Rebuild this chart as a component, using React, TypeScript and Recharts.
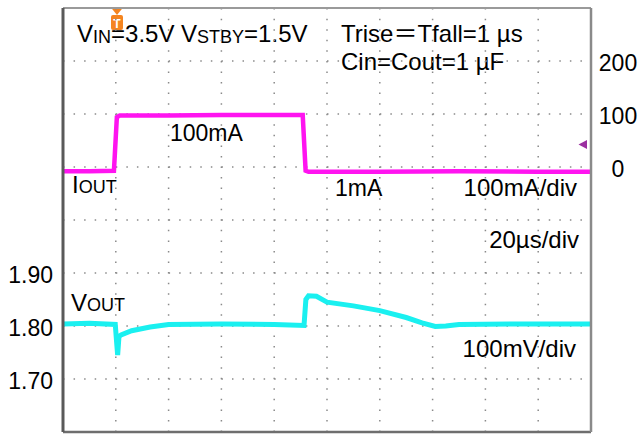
import { ComposedChart, Line, XAxis, YAxis, ReferenceLine, Customized } from "recharts";

// time axis: 20us/div, 10 divisions, trigger at 20us
const timeGrid = [0, 20, 40, 60, 80, 100, 120, 140, 160, 180, 200];
// vout axis: 100mV/div
const voltGrid = [1.6, 1.7, 1.8, 1.9, 2.0, 2.1, 2.2, 2.3, 2.4];
const voltTicks = [1.7, 1.8, 1.9];
const voltTickLabels = ["1.70", "1.80", "1.90"];
// iout axis: 100mA/div
const currentTicks = [0, 100, 200];

// IOUT trace (us, mA)
const iTime = [0, 10, 19.3, 20.4, 21.5, 40, 60, 80, 90.8, 91.9, 93, 120, 150, 180, 200];
const iValue = [-8, -8, -7, 94, 97, 97, 98, 98, 98, -7, -9, -9, -8, -9, -9];

// VOUT trace (us, V)
const vTime = [0, 10, 19.8, 20.3, 20.7, 21.2, 22, 26, 33, 40, 60, 80, 91.3, 92, 93, 96, 100, 110, 120, 130, 136, 141, 145, 150, 170, 200];
const vValue = [1.804, 1.805, 1.803, 1.77, 1.745, 1.78, 1.783, 1.791, 1.798, 1.803, 1.804, 1.803, 1.801, 1.85, 1.857, 1.856, 1.845, 1.838, 1.829, 1.816, 1.806, 1.799, 1.8, 1.803, 1.804, 1.804];

const iData = iTime.map((t, k) => ({ t, v: iValue[k] }));
const vData = vTime.map((t, k) => ({ t, v: vValue[k] }));

const minorTimes = timeGrid.slice(0, -1).flatMap((t) => [t, t + 4, t + 8, t + 12, t + 16]).concat([200]);
const minorVolts = voltGrid.slice(0, -1).flatMap((v) => [0, 0.02, 0.04, 0.06, 0.08].map((d) => +(v + d).toFixed(3))).concat([2.4]);

const FONT = "'Liberation Sans', Arial, sans-serif";
const GRID = "#8a8a8a";
const FRAME = "#6e6e6e";

function Notes() {
  return (
    <g fontFamily={FONT} fill="#000">
      <text x={77} y={42} fontSize={24}>
        V<tspan fontSize={18} dy={1}>IN</tspan>
        <tspan dy={-1}>=3.5V V</tspan>
        <tspan fontSize={18} dy={1}>STBY</tspan>
        <tspan dy={-1}>=1.5V</tspan>
      </text>
      <text x={341} y={42} fontSize={24}>
        Trise<tspan fontFamily="'Noto Sans CJK SC', sans-serif">＝</tspan>Tfall=1 µs
      </text>
      <text x={341} y={70} fontSize={24}>Cin=Cout=1 µF</text>
      <text x={170} y={141} fontSize={23}>100mA</text>
      <text x={72} y={193} fontSize={24}>
        I<tspan fontSize={18}>OUT</tspan>
      </text>
      <text x={335} y={196} fontSize={23}>1mA</text>
      <text x={577} y={196} fontSize={24} textAnchor="end">100mA/div</text>
      <text x={579} y={248} fontSize={24} textAnchor="end">20µs/div</text>
      <text x={71} y={311} fontSize={24}>
        V<tspan fontSize={18}>OUT</tspan>
      </text>
      <text x={576} y={357} fontSize={24} textAnchor="end">100mV/div</text>
      {/* trigger marker */}
      <polygon points="110.5,7 123.5,7 117,15" fill="#f5841f" />
      <rect x={111} y={15} width={12} height={15} rx={2} fill="#f5841f" />
      <text x={117} y={28} fontSize={12} fontWeight="bold" fill="#fff" textAnchor="middle">T</text>
      {/* channel offset arrow */}
      <polygon points="578.5,144.5 587,140 587,149" fill="#9b2fa0" />
    </g>
  );
}

const voltTick = (props: any) => {
  const { y, payload } = props;
  const k = voltTicks.indexOf(payload.value);
  return (
    <text x={53} y={y + 10} fontSize={23} fontFamily={FONT} textAnchor="end" fill="#000">
      {voltTickLabels[k]}
    </text>
  );
};

const currentTick = (props: any) => {
  const { y, payload } = props;
  return (
    <text x={618} y={y + 10} fontSize={23} fontFamily={FONT} textAnchor="middle" fill="#000">
      {payload.value}
    </text>
  );
};

export default function App() {
  return (
    <div style={{ position: "absolute", left: 0, top: 0, width: 641, height: 436, background: "#fff" }}>
      <ComposedChart width={641} height={436} margin={{ top: 8, right: 0, bottom: 4, left: 0 }}>
        <XAxis xAxisId="t" type="number" dataKey="t" domain={[0, 200]} ticks={timeGrid} hide allowDataOverflow />
        <XAxis
          xAxisId="bottom"
          type="number"
          dataKey="t"
          domain={[0, 200]}
          ticks={minorTimes}
          orientation="bottom"
          mirror
          tick={false}
          tickSize={4}
          tickLine={{ stroke: FRAME, strokeWidth: 1.2 }}
          axisLine={{ stroke: FRAME, strokeWidth: 2.5 }}
        />
        <XAxis
          xAxisId="top"
          type="number"
          dataKey="t"
          domain={[0, 200]}
          ticks={minorTimes}
          orientation="top"
          mirror
          tick={false}
          tickSize={4}
          tickLine={{ stroke: FRAME, strokeWidth: 1.2 }}
          axisLine={{ stroke: "#9a9a9a", strokeWidth: 2 }}
        />
        <YAxis yAxisId="v" type="number" domain={[1.6, 2.4]} ticks={voltTicks} width={63} tick={voltTick} tickLine={false} axisLine={false} allowDataOverflow />
        <YAxis
          yAxisId="vb"
          type="number"
          domain={[1.6, 2.4]}
          ticks={minorVolts}
          mirror
          tick={false}
          tickSize={4}
          tickLine={{ stroke: FRAME, strokeWidth: 1.2 }}
          axisLine={{ stroke: "#5a5a5a", strokeWidth: 3 }}
        />
        <YAxis yAxisId="i" type="number" orientation="right" domain={[-500, 300]} ticks={currentTicks} width={50} tick={currentTick} tickLine={false} axisLine={false} allowDataOverflow />
        <YAxis
          yAxisId="ib"
          type="number"
          orientation="right"
          domain={[1.6, 2.4]}
          ticks={minorVolts}
          mirror
          tick={false}
          tickSize={4}
          tickLine={{ stroke: FRAME, strokeWidth: 1.2 }}
          axisLine={{ stroke: "#8a8a8a", strokeWidth: 2.5 }}
        />
        {timeGrid.slice(1, -1).map((t) => (
          <ReferenceLine key={"gx" + t} xAxisId="t" yAxisId="v" x={t} stroke={GRID} strokeWidth={1.5} strokeDasharray="1.5 9.06" />
        ))}
        {voltGrid.slice(1, -1).map((v) => (
          <ReferenceLine key={"gy" + v} xAxisId="t" yAxisId="v" y={v} stroke={GRID} strokeWidth={1.5} strokeDasharray="1.5 9.06" />
        ))}
        <Line
          xAxisId="t"
          yAxisId="i"
          data={iData}
          dataKey="v"
          type="linear"
          stroke="#ff14f0"
          strokeWidth={4.5}
          dot={false}
          isAnimationActive={false}
        />
        <Line
          xAxisId="t"
          yAxisId="v"
          data={vData}
          dataKey="v"
          type="linear"
          stroke="#1af0f0"
          strokeWidth={5}
          dot={false}
          isAnimationActive={false}
        />
        <Customized component={Notes} />
      </ComposedChart>
    </div>
  );
}
